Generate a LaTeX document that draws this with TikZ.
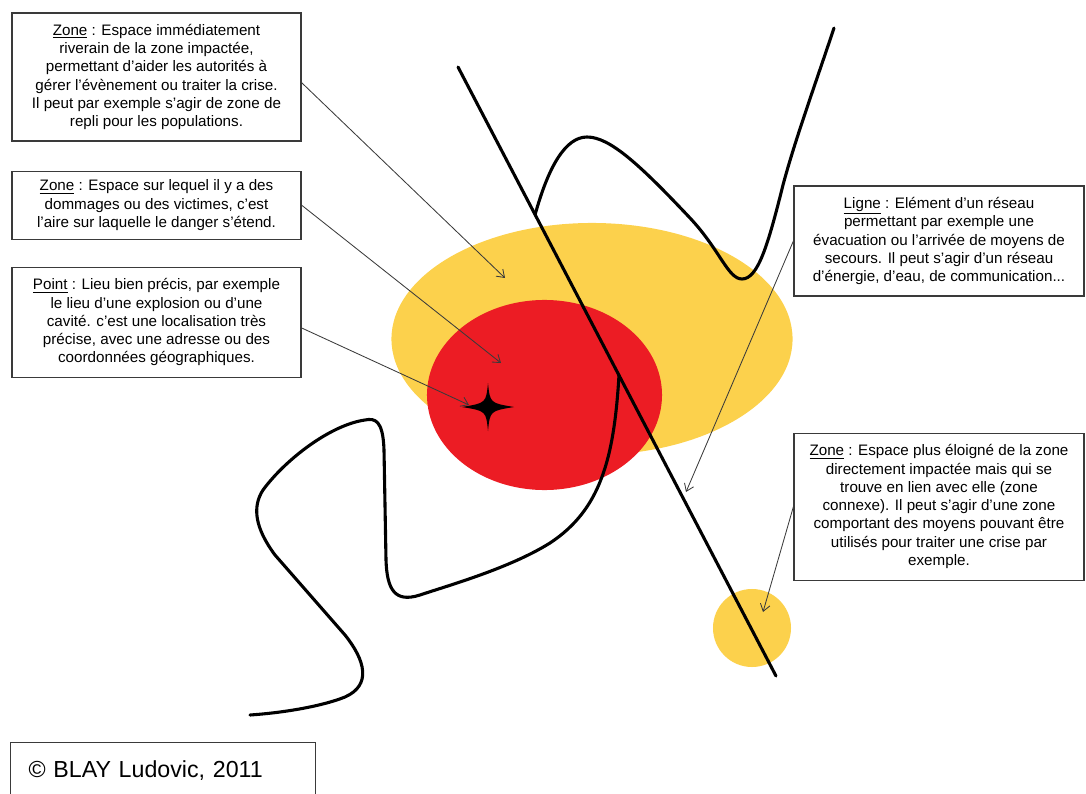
\documentclass[tikz,border=0pt]{standalone}
\usepackage{fontspec}
\setmainfont{Liberation Sans}
\usepackage{xcolor}
\definecolor{ZoneYellow}{HTML}{FCD14C}
\definecolor{ZoneRed}{HTML}{EC1C24}
\definecolor{FrameGrey}{HTML}{3A3A3A}
\usetikzlibrary{shapes.geometric, arrows.meta, positioning}
\tikzset{
  % Box styles
  notebox/.style={rectangle, draw=FrameGrey, line width=0.8pt, fill=white, minimum width=7.225cm, inner sep=2pt, font=\fontsize{10.8}{13}\selectfont, align=center},
  creditbox/.style={rectangle, draw=FrameGrey, line width=0.8pt, fill=white, text width=6.725cm, inner xsep=0.45cm, inner ysep=0.325cm, text height=0.55cm, text depth=1.5cm, font=\fontsize{16.5}{20}\selectfont, align=left},
  % Zone styles
  zonefill/.style={ellipse, draw=none, inner sep=0pt},
  % Line styles
  route/.style={line width=2.2pt, line cap=round, line join=round},
  % Arrow styles
  pointer/.style={-{Straight Barb[length=5pt, width=7pt]}, line width=0.6pt, FrameGrey}
}

\begin{document}
\begin{tikzpicture}[x=0.025cm, y=-0.025cm]
  \useasboundingbox (0,0) rectangle (1086,794);
  \clip (0,0) rectangle (1086,794);

  % Zones
  \node[zonefill, fill=ZoneYellow, minimum width=10.025cm, minimum height=5.8cm] (near) at (592,339) {};
  \node[zonefill, fill=ZoneRed, minimum width=5.875cm, minimum height=4.75cm] (impact) at (544.5,395) {};
  \node[zonefill, circle, fill=ZoneYellow, minimum size=1.95cm] (far) at (752,628) {};

  % Point
  \fill[shift={(488,407)}] (0,-24) .. controls (2,-4) .. (26,0) .. controls (2,4) .. (0,24)
    .. controls (-2,4) .. (-26,0) .. controls (-2,-4) .. (0,-24) -- cycle;

  % Lines
  \coordinate (lineA) at (458,67);
  \coordinate (lineB) at (776,676);
  \coordinate (fork1) at (535,215);
  \coordinate (fork2) at (619,375);
  \draw[route] (lineA) -- (lineB);
  \draw[route] (fork1) .. controls (548,168) and (565,137) .. (587,137)
    .. controls (610,137) and (640,165) .. (690,218)
    .. controls (720,250) and (728,279) .. (742,279)
    .. controls (758,279) and (768,245) .. (783,185)
    .. controls (795,140) and (815,85) .. (834,28);
  \draw[route] (fork2) .. controls (614,460) and (600,510) .. (550,543)
    .. controls (510,568) and (450,585) .. (420,595)
    .. controls (395,603) and (387,590) .. (386,560)
    -- (384,450)
    .. controls (383,420) and (375,418) .. (365,420)
    .. controls (330,425) and (285,460) .. (263,490)
    .. controls (252,507) and (255,528) .. (275,555)
    -- (345,635)
    .. controls (365,660) and (372,685) .. (345,697)
    .. controls (320,707) and (280,713) .. (250,715);

  % Notes
  \node[notebox, minimum height=3.2cm] (n1) at (156.5,77) {
    \underline{Zone} : Espace immédiatement\\
    riverain de la zone impactée,\\
    permettant d’aider les autorités à\\
    gérer l’évènement ou traiter la crise.\\
    Il peut par exemple s’agir de zone de\\
    repli pour les populations.
  };
  \node[notebox, minimum height=1.7cm, below=0.725cm of n1] (n2) {
    \underline{Zone} : Espace sur lequel il y a des\\
    dommages ou des victimes, c’est\\
    l’aire sur laquelle le danger s’étend.
  };
  \node[notebox, minimum height=2.75cm, below=0.675cm of n2] (n3) {
    \underline{Point} : Lieu bien précis, par exemple\\
    le lieu d’une explosion ou d’une\\
    cavité. c’est une localisation très\\
    précise, avec une adresse ou des\\
    coordonnées géographiques.
  };
  \node[notebox, minimum width=7.25cm, minimum height=2.75cm] (n4) at (939,241) {
    \underline{Ligne} : Elément d’un réseau\\
    permettant par exemple une\\
    évacuation ou l’arrivée de moyens de\\
    secours. Il peut s’agir d’un réseau\\
    d’énergie, d’eau, de communication...
  };
  \node[notebox, minimum width=7.25cm, minimum height=3.675cm, below=3.4cm of n4] (n5) {
    \underline{Zone} : Espace plus éloigné de la zone\\
    directement impactée mais qui se\\
    trouve en lien avec elle (zone\\
    connexe). Il peut s’agir d’une zone\\
    comportant des moyens pouvant être\\
    utilisés pour traiter une crise par\\
    exemple.
  };
  \node[creditbox, anchor=north west] (credit) at (10,742) {© BLAY Ludovic, 2011};

  % Pointers
  \coordinate (tip1) at (505,278);
  \coordinate (tip2) at (501,363);
  \coordinate (tip3) at (469,405);
  \coordinate (tip4) at (686,492);
  \coordinate (tip5) at (763,612);
  \draw[pointer] ([yshift=-4pt]n1.east) -- (tip1);
  \draw[pointer] (n2.east) -- (tip2);
  \draw[pointer] ([yshift=-4pt]n3.east) -- (tip3);
  \draw[pointer] (n4.west) -- (tip4);
  \draw[pointer] (n5.west) -- (tip5);
\end{tikzpicture}
\end{document}
